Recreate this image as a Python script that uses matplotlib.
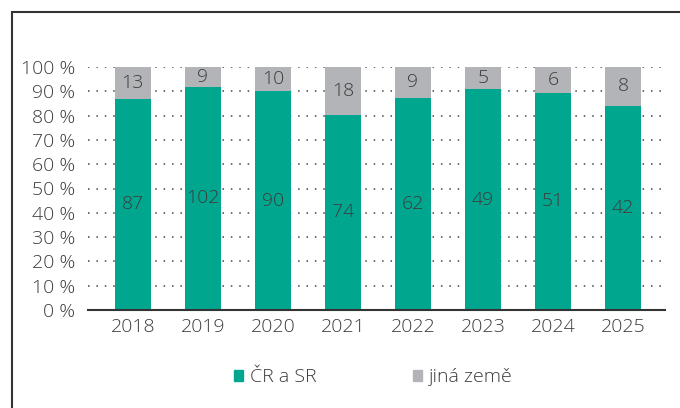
import matplotlib
matplotlib.use("Agg")
import matplotlib.pyplot as plt
from matplotlib.patches import Patch, Rectangle

years = ["2018", "2019", "2020", "2021", "2022", "2023", "2024", "2025"]
cr_sr = [87, 102, 90, 74, 62, 49, 51, 42]
jina = [13, 9, 10, 18, 9, 5, 6, 8]
yticks = [0, 10, 20, 30, 40, 50, 60, 70, 80, 90, 100]

green = "#00A78E"
grey = "#B3B4B7"
txt = "#3C3C3C"

plt.rcParams["font.family"] = ["Open Sans", "DejaVu Sans"]
plt.rcParams["font.weight"] = "light"

# podily v procentech
tot = [a + b for a, b in zip(cr_sr, jina)]
p1 = [100 * a / t for a, t in zip(cr_sr, tot)]
p2 = [100 * b / t for b, t in zip(jina, tot)]

fig = plt.figure(figsize=(6.8, 4.08), dpi=100)
ax = fig.add_axes([88 / 680, 1 - 310 / 408, 577 / 680, 243 / 408])

x = range(len(years))
b1 = ax.bar(x, p1, width=0.51, color=green, zorder=2)
b2 = ax.bar(x, p2, bottom=p1, width=0.51, color=grey, zorder=2)
ax.bar_label(b1, labels=[str(v) for v in cr_sr], label_type="center",
             fontsize=14, color=txt)
ax.bar_label(b2, labels=[str(v) for v in jina], label_type="center",
             fontsize=14, color=txt)

ax.set_xlim(-0.64, 7.6)
ax.set_ylim(0, 100)
ax.set_xticks(list(x))
ax.set_xticklabels(years)
ax.set_yticks(yticks)
ax.set_yticklabels([f"{v} %" for v in yticks])
ax.tick_params(axis="both", length=0, labelsize=14, labelcolor=txt)
ax.tick_params(axis="y", pad=9)
ax.tick_params(axis="x", pad=6)
ax.grid(axis="y", linestyle=(0, (1, 4.5)), color="#444444", linewidth=1.1, zorder=0)
for s in ["top", "right", "left"]:
    ax.spines[s].set_visible(False)
ax.spines["bottom"].set_color("#333333")
ax.spines["bottom"].set_linewidth(1.5)

handles = [Patch(color=green, label="ČR a SR"), Patch(color=grey, label="jiná země")]
fig.legend(handles=handles, loc="center", bbox_to_anchor=(0.549, 1 - 377 / 408),
           ncol=2, frameon=False, fontsize=14, labelcolor=txt,
           handlelength=0.45, handleheight=0.5, handletextpad=0.35,
           columnspacing=5.0)

# ramecek
fig.add_artist(Rectangle((12 / 680, -0.2), 1.2, 1.2 - 12 / 408,
                         transform=fig.transFigure, fill=False,
                         edgecolor="#333333", linewidth=1.5, clip_on=False))

fig.savefig("out.png", dpi=100)
